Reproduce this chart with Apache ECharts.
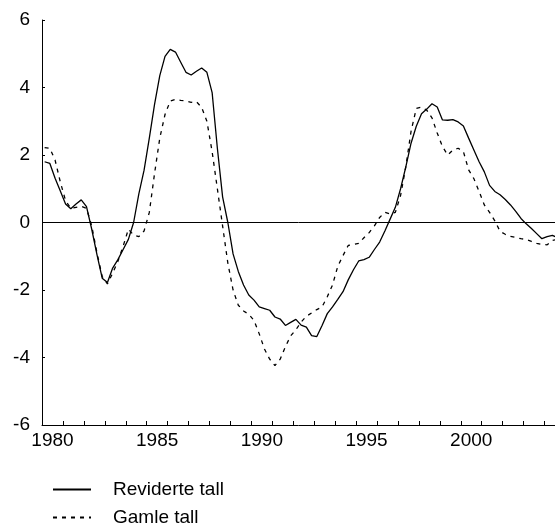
<!DOCTYPE html>
<html>
<head>
<meta charset="utf-8">
<script src="https://cdn.jsdelivr.net/npm/echarts@6/dist/echarts.min.js"></script>
<style>
  html, body { margin: 0; padding: 0; background: #fff; }
  #chart { width: 555px; height: 526px; }
</style>
</head>
<body>
<div id="chart"></div>
<script>
// quarterly series, first value is 1980 Q1
const startYear = 1980
const labelYears = [1980, 1985, 1990, 1995, 2000]
const tickYears = [1981, 1982, 1983, 1984, 1985, 1986, 1987, 1988, 1989, 1990, 1991, 1992,
  1993, 1994, 1995, 1996, 1997, 1998, 1999, 2000, 2001, 2002, 2003, 2004]

const revidert = [
  1.80, 1.75, 1.31, 0.93, 0.55, 0.41, 0.55, 0.67,
  0.47, -0.20, -0.95, -1.65, -1.78, -1.35, -1.10, -0.80,
  -0.50, 0.00, 0.85, 1.55, 2.50, 3.50, 4.35, 4.92,
  5.13, 5.05, 4.75, 4.45, 4.37, 4.48, 4.58, 4.45,
  3.85, 2.20, 0.76, 0.00, -0.93, -1.45, -1.85, -2.15,
  -2.30, -2.50, -2.55, -2.60, -2.80, -2.86, -3.05, -2.96,
  -2.87, -3.04, -3.10, -3.35, -3.38, -3.05, -2.70, -2.50,
  -2.28, -2.05, -1.70, -1.40, -1.14, -1.10, -1.03, -0.80,
  -0.58, -0.25, 0.10, 0.45, 1.00, 1.65, 2.35, 2.85,
  3.22, 3.36, 3.52, 3.42, 3.04, 3.03, 3.05, 2.98,
  2.86, 2.50, 2.15, 1.80, 1.50, 1.10, 0.92, 0.82,
  0.68, 0.52, 0.33, 0.12, -0.04, -0.18, -0.33, -0.48,
  -0.42, -0.38, -0.45
]

const gamle = [
  2.22, 2.20, 1.85, 1.20, 0.65, 0.42, 0.45, 0.48,
  0.42, -0.10, -0.90, -1.60, -1.82, -1.50, -1.15, -0.70,
  -0.20, -0.37, -0.42, -0.25, 0.30, 1.45, 2.50, 3.20,
  3.60, 3.65, 3.62, 3.60, 3.56, 3.58, 3.41, 3.00,
  2.10, 1.00, -0.10, -1.20, -2.00, -2.45, -2.62, -2.72,
  -2.90, -3.30, -3.75, -4.05, -4.24, -4.05, -3.68, -3.36,
  -3.18, -2.95, -2.78, -2.68, -2.58, -2.50, -2.20, -1.85,
  -1.30, -0.98, -0.68, -0.65, -0.62, -0.45, -0.30, -0.10,
  0.15, 0.30, 0.25, 0.30, 0.80, 1.65, 2.70, 3.38,
  3.42, 3.33, 3.10, 2.65, 2.25, 2.00, 2.15, 2.20,
  2.10, 1.56, 1.30, 0.92, 0.52, 0.30, 0.05, -0.26,
  -0.35, -0.41, -0.44, -0.48, -0.50, -0.56, -0.62, -0.65,
  -0.66, -0.53, -0.50
]

// each quarter sits in the middle of its quarter of the year
function toPoints(values) {
  return values.map((v, i) => [startYear + (i + 0.5) / 4, v])
}

const fontFamily = '"Liberation Sans", Arial, sans-serif'
const myChart = echarts.init(document.getElementById('chart'))

const option = {
  animation: false,
  textStyle: { fontFamily: fontFamily, color: '#000' },
  grid: { left: 42, right: 0, top: 20, bottom: 101 },
  xAxis: {
    type: 'value',
    min: 1980,
    max: 2004.5,
    axisLine: { onZero: false, lineStyle: { color: '#000', width: 1 } },
    axisTick: { inside: true, length: 4, lineStyle: { color: '#000' }, customValues: tickYears },
    splitLine: { show: false },
    axisLabel: {
      color: '#000',
      fontSize: 19,
      fontFamily: fontFamily,
      margin: 6,
      // year labels sit in the middle of the year
      customValues: labelYears.map(y => y + 0.5),
      formatter: v => String(Math.floor(v))
    }
  },
  yAxis: {
    type: 'value',
    min: -6,
    max: 6,
    interval: 2,
    axisLine: { show: true, lineStyle: { color: '#000', width: 1 } },
    axisTick: { show: true, inside: true, length: 3, lineStyle: { color: '#000' } },
    splitLine: { show: false },
    axisLabel: { color: '#000', fontSize: 19, fontFamily: fontFamily, margin: 12 }
  },
  legend: {
    orient: 'vertical',
    left: 52,
    top: 480,
    height: 80,
    padding: 0,
    itemWidth: 38,
    itemHeight: 14,
    itemGap: 9,
    itemStyle: { opacity: 0 },
    textStyle: { color: '#000', fontSize: 19, lineHeight: 19, fontFamily: fontFamily, padding: [0, 0, 0, 17] },
    data: ['Reviderte tall', 'Gamle tall']
  },
  series: [
    {
      name: 'Reviderte tall',
      type: 'line',
      symbol: 'none',
      data: toPoints(revidert),
      lineStyle: { color: '#000', width: 1.3 },
      itemStyle: { color: '#000' },
      markLine: {
        silent: true,
        symbol: 'none',
        label: { show: false },
        lineStyle: { color: '#000', width: 1, type: 'solid' },
        data: [{ yAxis: 0 }]
      }
    },
    {
      name: 'Gamle tall',
      type: 'line',
      symbol: 'none',
      data: toPoints(gamle),
      lineStyle: { color: '#000', width: 1.3, type: [4, 5] },
      itemStyle: { color: '#000' }
    }
  ]
}
myChart.setOption(option)
</script>
</body>
</html>
